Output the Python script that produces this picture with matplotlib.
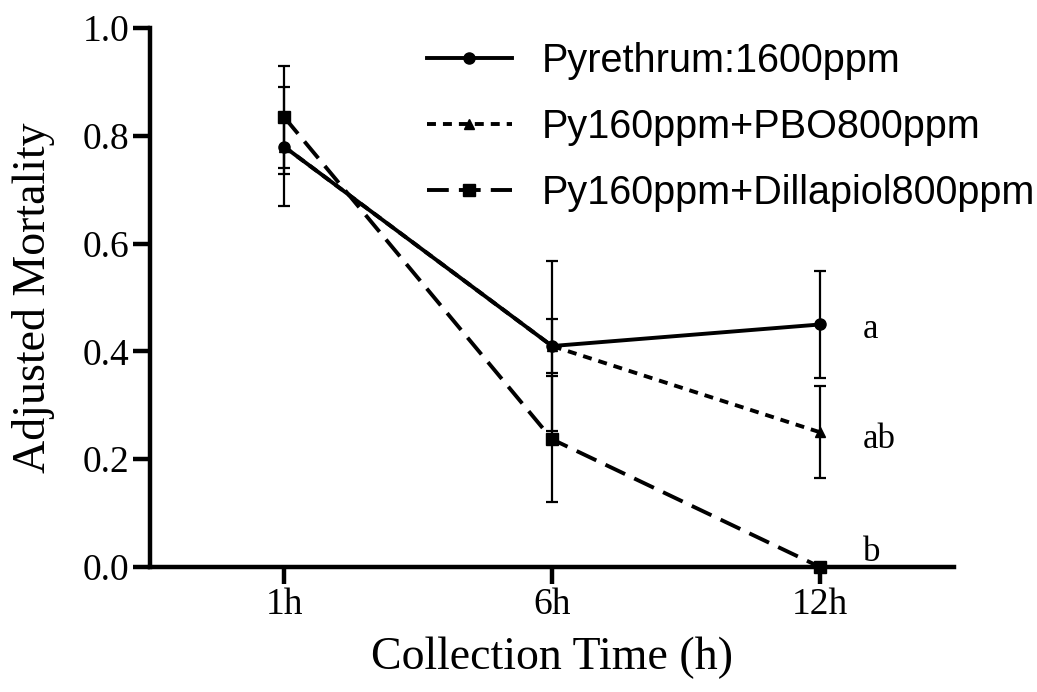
import matplotlib.pyplot as plt

times = ["1h", "6h", "12h"]
pyrethrum = [0.78, 0.41, 0.45]
pyrethrum_err = [0.11, 0.157, 0.10]
pbo = [0.78, 0.41, 0.25]
pbo_err = [0.05, 0.05, 0.085]
dill = [0.835, 0.237, 0.0]
dill_err = [0.095, 0.117, 0.0]
letters = ["a", "ab", "b"]
letter_y = [0.425, 0.22, 0.012]

serif = ["Liberation Serif", "DejaVu Serif"]
sans = ["Liberation Sans", "DejaVu Sans"]

fig = plt.figure(figsize=(10.37, 6.92), dpi=100)
ax = fig.add_axes([0.1447, 0.1806, 0.7753, 0.7789])

x = list(range(1, len(times) + 1))
lw = 2.8
series = [
    (pyrethrum, pyrethrum_err, "-", "o", 8, "Pyrethrum:1600ppm"),
    (pbo, pbo_err, (0, (2.3, 1.8)), "^", 7, "Py160ppm+PBO800ppm"),
    (dill, dill_err, (0, (5.6, 2.6)), "s", 8, "Py160ppm+Dillapiol800ppm"),
]
for vals, errs, ls, mk, ms, name in series:
    ax.errorbar(x, vals, yerr=errs, fmt="none", ecolor="black", elinewidth=1.6,
                capsize=4.5, capthick=1.6, clip_on=False)
    ax.plot(x, vals, color="black", lw=lw, ls=ls, marker=mk, ms=ms, label=name, clip_on=False)

# significance letters next to the 12h points
for t, yv in zip(letters, letter_y):
    ax.text(3.16, yv, t, fontsize=25, family=serif, va="baseline", ha="left")

ax.set_xlim(0.5, 3.5)
ax.set_ylim(0, 1.0)
ax.set_xticks(x)
ax.set_xticklabels(times)
ax.set_yticks([0.0, 0.2, 0.4, 0.6, 0.8, 1.0])
ax.set_yticklabels(["0.0", "0.2", "0.4", "0.6", "0.8", "1.0"])
for lab in ax.get_xticklabels() + ax.get_yticklabels():
    lab.set_family(serif)
    lab.set_fontsize(27)

ax.set_xlabel("Collection Time (h)", fontsize=33, family=serif, labelpad=10)
ax.set_ylabel("Adjusted Mortality", fontsize=33, family=serif, labelpad=20)

for s in ["top", "right"]:
    ax.spines[s].set_visible(False)
for s in ["left", "bottom"]:
    ax.spines[s].set_linewidth(3.2)
ax.tick_params(direction="out", length=12, width=3.2, pad=3)

ax.legend(loc="upper left", bbox_to_anchor=(0.30, 1.04), frameon=False,
          prop={"family": sans, "size": 28.5}, handlelength=2.15, handletextpad=0.75,
          labelspacing=0.70)

fig.savefig("out.png", dpi=100)
